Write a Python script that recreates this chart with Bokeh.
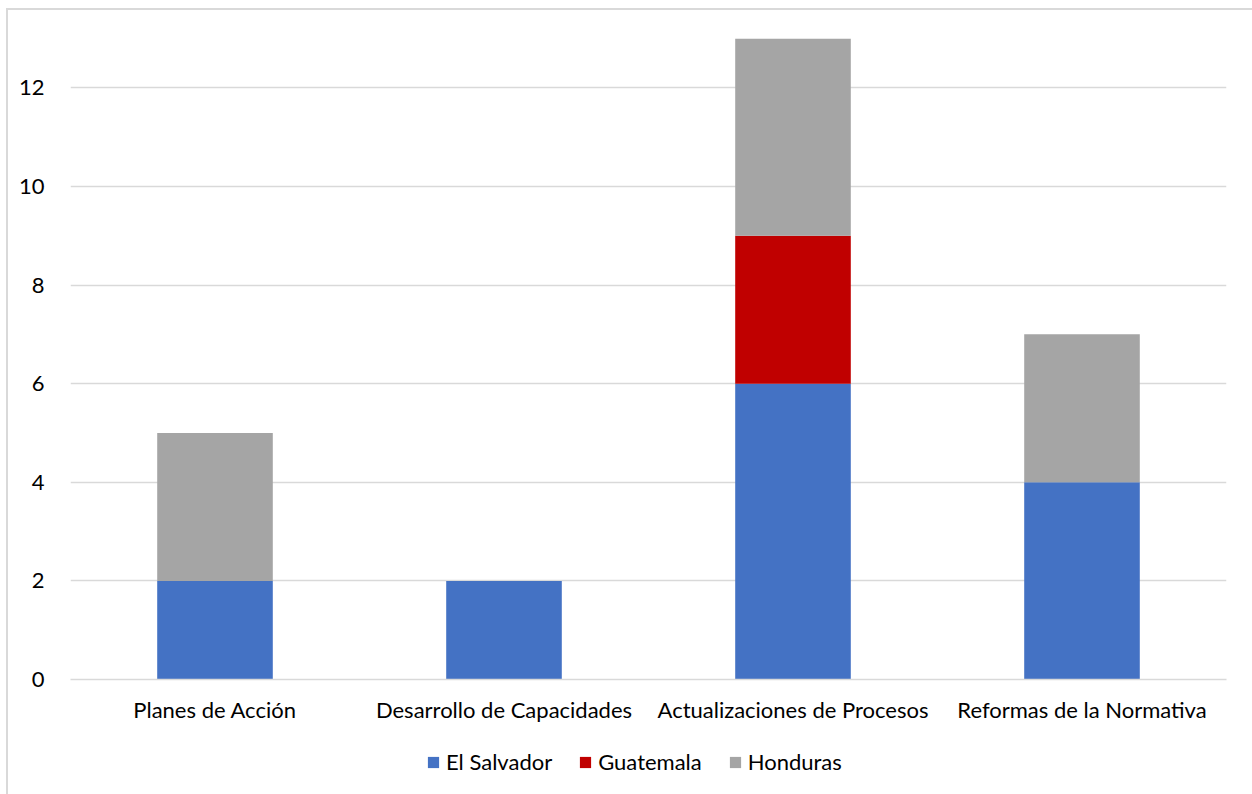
from bokeh.plotting import figure
from bokeh.layouts import column
from bokeh.models import Range1d, FactorRange, Legend, LegendItem, SingleIntervalTicker
from bokeh.embed import file_html
from bokeh.resources import INLINE

categories = ["Planes de Acción", "Desarrollo de Capacidades", "Actualizaciones de Procesos", "Reformas de la Normativa"]
series = ["El Salvador", "Guatemala", "Honduras"]
el_salvador = [2, 2, 6, 4]
guatemala = [0, 0, 3, 0]
honduras = [3, 0, 4, 3]
colors = ["#4472C4", "#C00000", "#A5A5A5"]

data = {"cat": categories, "El Salvador": el_salvador, "Guatemala": guatemala, "Honduras": honduras}

FONT = "Lato"
FS = "22px"

p = figure(x_range=FactorRange(*categories, range_padding=0), y_range=Range1d(0, 13),
           frame_width=1156, frame_height=641, output_backend="svg", toolbar_location=None,
           min_border_left=62, min_border_right=26, min_border_top=28, min_border_bottom=50)
p.x_range.range_padding = 0

rs = p.vbar_stack(series, x="cat", width=0.4, color=colors, source=data, line_width=0)

p.outline_line_color = None
p.xgrid.grid_line_color = None
p.ygrid.grid_line_color = "#d9d9d9"
p.ygrid.grid_line_width = 1.5
p.yaxis.ticker = SingleIntervalTicker(interval=2)

p.yaxis.axis_line_color = None
p.yaxis.major_tick_line_color = None
p.yaxis.minor_tick_line_color = None
p.yaxis.major_tick_out = 0
p.yaxis.major_label_standoff = 22
p.yaxis.major_label_text_font = FONT
p.yaxis.major_label_text_font_size = FS
p.yaxis.major_label_text_color = "#000000"

p.xaxis.axis_line_color = "#d9d9d9"
p.xaxis.axis_line_width = 1.5
p.xaxis.major_tick_line_color = None
p.xaxis.minor_tick_line_color = None
p.xaxis.major_tick_out = 0
p.xaxis.major_label_standoff = 16
p.xaxis.major_label_text_font = FONT
p.xaxis.major_label_text_font_size = FS
p.xaxis.major_label_text_color = "#000000"

# legend strip below the chart
p2 = figure(x_range=FactorRange(*categories), y_range=Range1d(100, 101),
            width=1244, height=65, output_backend="svg", toolbar_location=None,
            min_border=0)
r2 = p2.vbar_stack(series, x="cat", width=0.4, color=colors, source=data, line_width=0)
p2.axis.visible = False
p2.grid.grid_line_color = None
p2.outline_line_color = None

legend = Legend(items=[LegendItem(label=s, renderers=[r]) for s, r in zip(series, r2)],
                orientation="horizontal", location=(356, 19))
legend.label_text_font = FONT
legend.label_text_font_size = FS
legend.label_text_color = "#000000"
legend.glyph_width = 14
legend.glyph_height = 14
legend.label_standoff = 6
legend.spacing = 26
legend.border_line_color = None
legend.background_fill_alpha = 0
legend.margin = 0
legend.padding = 4
p2.add_layout(legend, "center")

layout = column(p, p2, spacing=0)
layout.styles = {"margin-left": "6px", "margin-top": "8px",
                 "border-left": "2px solid #d9d9d9", "border-top": "2px solid #d9d9d9"}

open("out.html", "w").write(file_html(layout, INLINE))
